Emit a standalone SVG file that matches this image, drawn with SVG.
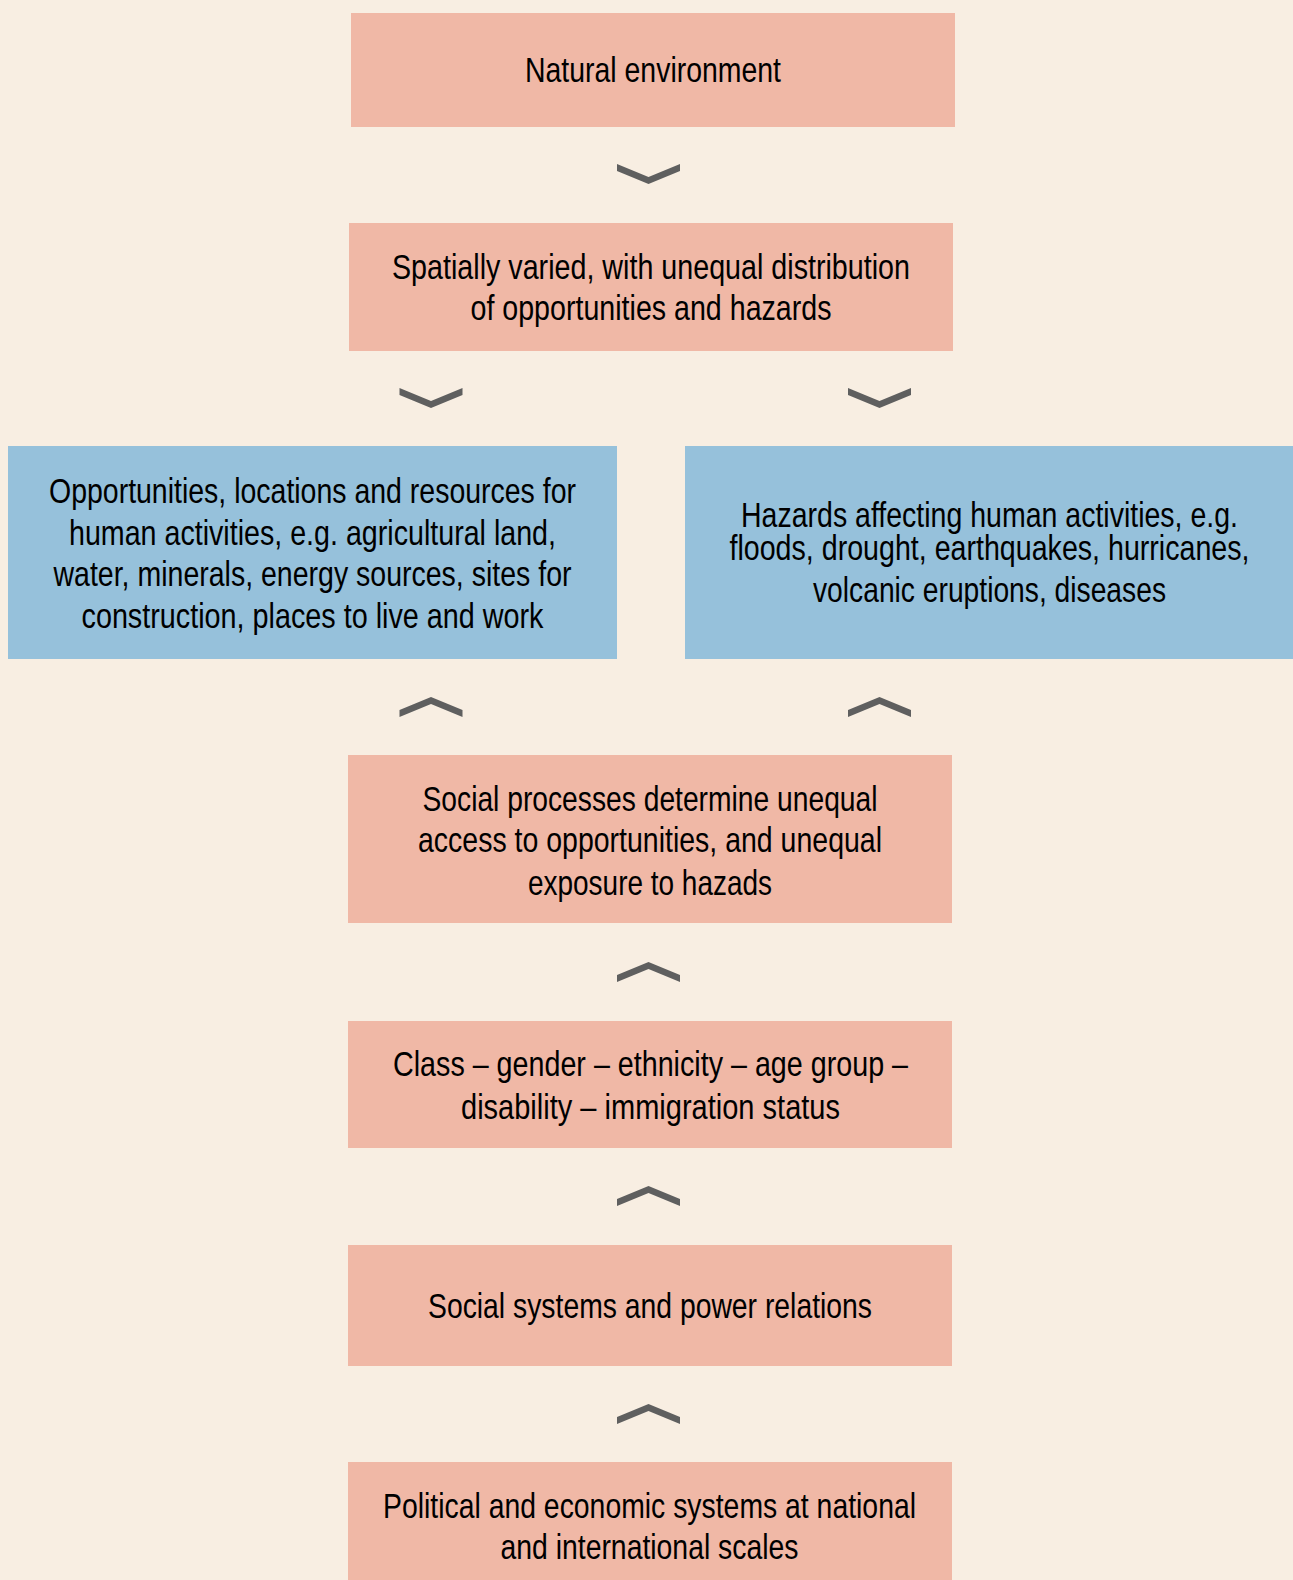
<svg xmlns="http://www.w3.org/2000/svg" width="1293" height="1580" viewBox="0 0 1293 1580">
<style>
.bg{fill:#F8EEE2}
.pink{fill:#F0B8A6}
.blue{fill:#96C1DB}
.chev{fill:#5F5F5F}
text{font-family:"Liberation Sans",Arial,sans-serif;font-size:34.5px;fill:#000;text-anchor:middle}
</style>
<defs>
<path id="down" d="M-31.5,0 L0,13 L31.5,0 L31.5,7 L0,20 L-31.5,7 Z"/>
<path id="up" d="M-31.5,20 L0,7 L31.5,20 L31.5,13 L0,0 L-31.5,13 Z"/>
</defs>
<rect class="bg" x="0" y="0" width="1293" height="1580"/>
<g id="connectors">
<use href="#down" class="chev" x="648.5" y="164"/>
<use href="#down" class="chev" x="431" y="388"/>
<use href="#down" class="chev" x="879.5" y="388"/>
<use href="#up" class="chev" x="431" y="697"/>
<use href="#up" class="chev" x="879.5" y="697"/>
<use href="#up" class="chev" x="648.5" y="962"/>
<use href="#up" class="chev" x="648.5" y="1186"/>
<use href="#up" class="chev" x="648.5" y="1404"/>
</g>
<g id="natural">
<rect class="pink" x="351" y="13" width="604" height="114"/>
<text x="653" y="82" textLength="256" lengthAdjust="spacingAndGlyphs">Natural environment</text>
</g>
<g id="spatial">
<rect class="pink" x="349" y="223" width="604" height="128"/>
<text x="651" y="279" textLength="518" lengthAdjust="spacingAndGlyphs">Spatially varied, with unequal distribution</text>
<text x="651" y="320" textLength="361" lengthAdjust="spacingAndGlyphs">of opportunities and hazards</text>
</g>
<g id="opportunities">
<rect class="blue" x="8" y="446" width="609" height="213"/>
<text x="312.5" y="503" textLength="527" lengthAdjust="spacingAndGlyphs">Opportunities, locations and resources for</text>
<text x="312.5" y="545" textLength="487" lengthAdjust="spacingAndGlyphs">human activities, e.g. agricultural land,</text>
<text x="312.5" y="586" textLength="518" lengthAdjust="spacingAndGlyphs">water, minerals, energy sources, sites for</text>
<text x="312.5" y="628" textLength="462" lengthAdjust="spacingAndGlyphs">construction, places to live and work</text>
</g>
<g id="hazards">
<rect class="blue" x="685" y="446" width="608" height="213"/>
<text x="989.5" y="527" textLength="497" lengthAdjust="spacingAndGlyphs">Hazards affecting human activities, e.g.</text>
<text x="989.5" y="560" textLength="520" lengthAdjust="spacingAndGlyphs">floods, drought, earthquakes, hurricanes,</text>
<text x="989.5" y="602" textLength="353" lengthAdjust="spacingAndGlyphs">volcanic eruptions, diseases</text>
</g>
<g id="social-processes">
<rect class="pink" x="348" y="755" width="604" height="168"/>
<text x="650" y="811" textLength="455" lengthAdjust="spacingAndGlyphs">Social processes determine unequal</text>
<text x="650" y="852" textLength="464" lengthAdjust="spacingAndGlyphs">access to opportunities, and unequal</text>
<text x="650" y="895" textLength="244" lengthAdjust="spacingAndGlyphs">exposure to hazads</text>
</g>
<g id="class">
<rect class="pink" x="348" y="1021" width="604" height="127"/>
<text x="650.5" y="1076" textLength="515" lengthAdjust="spacingAndGlyphs">Class – gender – ethnicity – age group –</text>
<text x="650.5" y="1119" textLength="379" lengthAdjust="spacingAndGlyphs">disability – immigration status</text>
</g>
<g id="social-systems">
<rect class="pink" x="348" y="1245" width="604" height="121"/>
<text x="650" y="1318" textLength="444" lengthAdjust="spacingAndGlyphs">Social systems and power relations</text>
</g>
<g id="political">
<rect class="pink" x="348" y="1462" width="604" height="118"/>
<text x="649.5" y="1518" textLength="533" lengthAdjust="spacingAndGlyphs">Political and economic systems at national</text>
<text x="649.5" y="1559" textLength="298" lengthAdjust="spacingAndGlyphs">and international scales</text>
</g>
</svg>
